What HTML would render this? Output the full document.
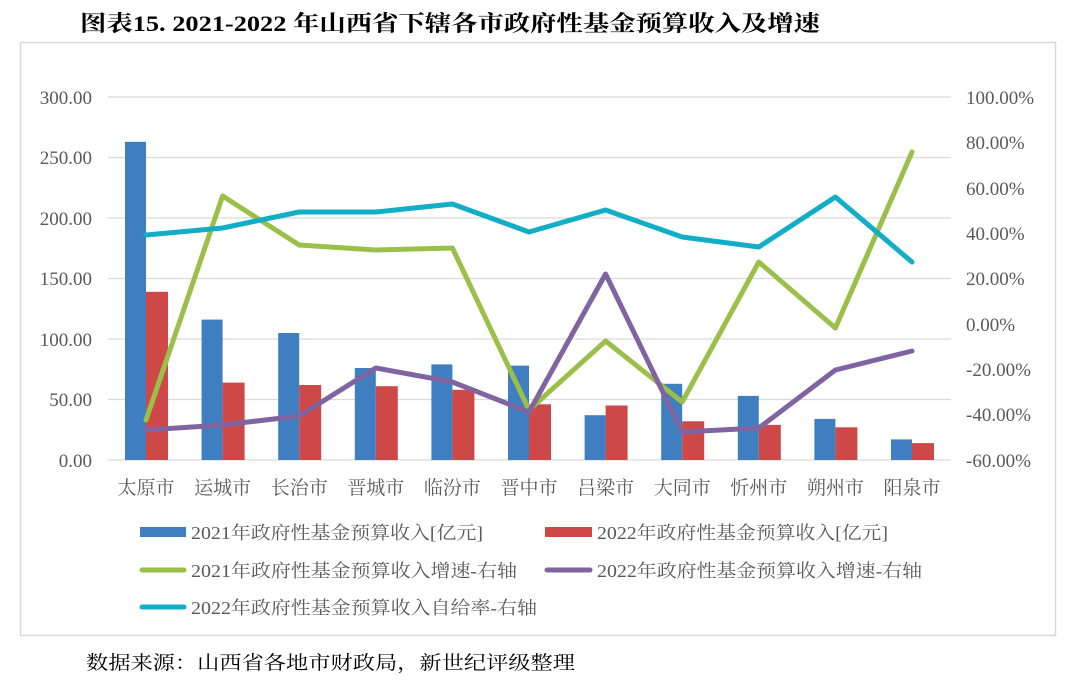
<!DOCTYPE html>
<html><head><meta charset="utf-8"><style>
body{margin:0;background:#fff;width:1072px;height:684px;overflow:hidden}
text{font-family:"Liberation Serif","Noto Serif CJK SC",serif}
</style></head><body>
<svg width="1072" height="684" xmlns="http://www.w3.org/2000/svg">
<text x="80" y="31" font-size="22" font-weight="bold" fill="#000" textLength="740" lengthAdjust="spacingAndGlyphs">图表15. 2021-2022 年山西省下辖各市政府性基金预算收入及增速</text>
<rect x="20.5" y="42.5" width="1035" height="593" fill="none" stroke="#d9d9d9" stroke-width="1.5"/>
<g stroke="#d9d9d9" stroke-width="1.3">
<line x1="108" x2="951" y1="97" y2="97"/><line x1="108" x2="951" y1="157.5" y2="157.5"/>
<line x1="108" x2="951" y1="218" y2="218"/><line x1="108" x2="951" y1="278.5" y2="278.5"/>
<line x1="108" x2="951" y1="339" y2="339"/><line x1="108" x2="951" y1="399.5" y2="399.5"/>
<line x1="108" x2="951" y1="460" y2="460"/></g>
<g font-size="19" fill="#595959" text-anchor="end">
<text x="92" y="104">300.00</text><text x="92" y="164">250.00</text><text x="92" y="225">200.00</text>
<text x="92" y="285">150.00</text><text x="92" y="346">100.00</text><text x="92" y="406">50.00</text><text x="92" y="467">0.00</text></g>
<g font-size="19" fill="#595959">
<text x="966" y="104">100.00%</text><text x="966" y="149">80.00%</text><text x="966" y="195">60.00%</text>
<text x="966" y="240">40.00%</text><text x="966" y="285">20.00%</text><text x="966" y="331">0.00%</text>
<text x="966" y="376">-20.00%</text><text x="966" y="421">-40.00%</text><text x="966" y="467">-60.00%</text></g>
<g fill="#3f7fc1">
<rect x="125" y="141.8" width="21" height="318.2"/><rect x="201.6" y="319.6" width="21" height="140.4"/>
<rect x="278.2" y="333" width="21" height="127"/><rect x="354.8" y="368" width="21" height="92"/>
<rect x="431.4" y="364.4" width="21" height="95.6"/><rect x="508" y="365.6" width="21" height="94.4"/>
<rect x="584.6" y="415.2" width="21" height="44.8"/><rect x="661.2" y="383.8" width="21" height="76.2"/>
<rect x="737.8" y="395.9" width="21" height="64.1"/><rect x="814.4" y="418.9" width="21" height="41.1"/>
<rect x="891" y="439.4" width="21" height="20.6"/></g>
<g fill="#cf4848">
<rect x="146" y="291.8" width="22" height="168.2"/><rect x="222.6" y="382.6" width="22" height="77.4"/>
<rect x="299.2" y="385" width="22" height="75"/><rect x="375.8" y="386.2" width="22" height="73.8"/>
<rect x="452.4" y="389.8" width="22" height="70.2"/><rect x="529" y="404.3" width="22" height="55.7"/>
<rect x="605.6" y="405.5" width="22" height="54.5"/><rect x="682.2" y="421.3" width="22" height="38.7"/>
<rect x="758.8" y="424.9" width="22" height="35.1"/><rect x="835.4" y="427.3" width="22" height="32.7"/>
<rect x="912" y="443.1" width="22" height="16.9"/></g>
<g fill="none" stroke-width="5" stroke-linejoin="round" stroke-linecap="round">
<polyline stroke="#9bc04a" points="146,420 222.6,196 299.2,245 375.8,250 452.4,248 529,410 605.6,341 682.2,402 758.8,262 835.4,328 912,152"/>
<polyline stroke="#8064a2" points="146,430 222.6,425 299.2,416 375.8,368 452.4,382 529,412 605.6,274 682.2,432 758.8,428 835.4,370 912,351"/>
<polyline stroke="#12adc6" points="146,235 222.6,228 299.2,212 375.8,212 452.4,204 529,232 605.6,210 682.2,237 758.8,247 835.4,197 912,262"/>
</g>
<g font-size="19" fill="#595959" text-anchor="middle">
<text x="146" y="494">太原市</text><text x="222.6" y="494">运城市</text><text x="299.2" y="494">长治市</text>
<text x="375.8" y="494">晋城市</text><text x="452.4" y="494">临汾市</text><text x="529" y="494">晋中市</text>
<text x="605.6" y="494">吕梁市</text><text x="682.2" y="494">大同市</text><text x="758.8" y="494">忻州市</text>
<text x="835.4" y="494">朔州市</text><text x="912" y="494">阳泉市</text></g>
<g font-size="18" fill="#595959">
<rect x="140" y="527" width="46" height="10" fill="#3f7fc1"/><text x="191" y="539" textLength="292" lengthAdjust="spacingAndGlyphs">2021年政府性基金预算收入[亿元]</text>
<rect x="545" y="527" width="47" height="10" fill="#cf4848"/><text x="597" y="539" textLength="291" lengthAdjust="spacingAndGlyphs">2022年政府性基金预算收入[亿元]</text>
<line x1="142" x2="184" y1="570" y2="570" stroke="#9bc04a" stroke-width="5" stroke-linecap="round"/><text x="191" y="577" textLength="326" lengthAdjust="spacingAndGlyphs">2021年政府性基金预算收入增速-右轴</text>
<line x1="547" x2="590" y1="570" y2="570" stroke="#8064a2" stroke-width="5" stroke-linecap="round"/><text x="597" y="577" textLength="325" lengthAdjust="spacingAndGlyphs">2022年政府性基金预算收入增速-右轴</text>
<line x1="142" x2="184" y1="607" y2="607" stroke="#12adc6" stroke-width="5" stroke-linecap="round"/><text x="191" y="614" textLength="346" lengthAdjust="spacingAndGlyphs">2022年政府性基金预算收入自给率-右轴</text>
</g>
<text x="86" y="669" font-size="19" fill="#000" textLength="489" lengthAdjust="spacingAndGlyphs">数据来源：山西省各地市财政局，新世纪评级整理</text>
</svg>
</body></html>
